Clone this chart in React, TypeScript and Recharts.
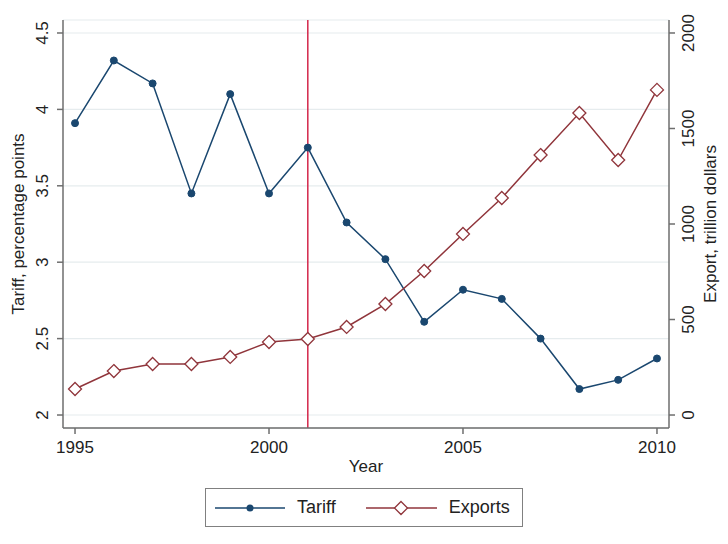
import {
  CartesianGrid,
  Legend,
  Line,
  LineChart,
  ReferenceLine,
  XAxis,
  YAxis,
} from "recharts";

const years = [
  1995, 1996, 1997, 1998, 1999, 2000, 2001, 2002, 2003, 2004, 2005, 2006, 2007,
  2008, 2009, 2010,
];
const tariff = [
  3.91, 4.32, 4.17, 3.45, 4.1, 3.45, 3.75, 3.26, 3.02, 2.61, 2.82, 2.76, 2.5,
  2.17, 2.23, 2.37,
];
const exportsValues = [
  136, 230, 267, 267, 304, 382, 398, 461, 581, 754, 948, 1136, 1361, 1581, 1335,
  1702,
];
const yearTicks = [1995, 2000, 2005, 2010];
const tariffTicks = [2, 2.5, 3, 3.5, 4, 4.5];
const exportTicks = [0, 500, 1000, 1500, 2000];
const policyYear = 2001;

const data = years.map((year, i) => ({
  year,
  tariff: tariff[i],
  exports: exportsValues[i],
}));

const font = "'Liberation Sans', Arial, Helvetica, sans-serif";
const textColor = "#222";
const axisColor = "#6e6e6e";
const tariffColor = "#1a476f";
const exportColor = "#90353b";

function LeftTick({ x, y, payload }: any) {
  const bx = x - 7;
  return (
    <text
      x={bx}
      y={y}
      transform={`rotate(-90, ${bx}, ${y})`}
      textAnchor="middle"
      fontSize={17}
      fontFamily={font}
      fill={textColor}
    >
      {payload.value}
    </text>
  );
}

function RightTick({ x, y, payload }: any) {
  const bx = x + 17;
  return (
    <text
      x={bx}
      y={y}
      transform={`rotate(-90, ${bx}, ${y})`}
      textAnchor="middle"
      fontSize={17}
      fontFamily={font}
      fill={textColor}
    >
      {payload.value}
    </text>
  );
}

function verticalTitle(text: string, dx: number) {
  return ({ viewBox }: any) => {
    const bx = viewBox.x + dx;
    const cy = viewBox.y + viewBox.height / 2;
    return (
      <text
        x={bx}
        y={cy}
        transform={`rotate(-90, ${bx}, ${cy})`}
        textAnchor="middle"
        fontSize={17}
        fontFamily={font}
        fill={textColor}
      >
        {text}
      </text>
    );
  };
}

function yearTitle({ viewBox }: any) {
  return (
    <text
      x={viewBox.x + viewBox.width / 2}
      y={viewBox.y + 44}
      textAnchor="middle"
      fontSize={17}
      fontFamily={font}
      fill={textColor}
    >
      Year
    </text>
  );
}

function Diamond({ cx, cy }: any) {
  if (cx == null || cy == null) return null;
  const r = 6.5;
  return (
    <path
      d={`M${cx},${cy - r}L${cx + r},${cy}L${cx},${cy + r}L${cx - r},${cy}Z`}
      fill="#fff"
      stroke={exportColor}
      strokeWidth={1.3}
    />
  );
}

function LegendBox() {
  const itemText = { fontSize: 18, color: textColor, fontFamily: font };
  return (
    <div style={{ display: "flex", justifyContent: "center" }}>
      <div
        style={{
          boxSizing: "border-box",
          width: 318,
          height: 39,
          border: "1px solid #808080",
          background: "#fff",
          display: "flex",
          alignItems: "center",
          paddingLeft: 9,
        }}
      >
        <svg width={70} height={16}>
          <line x1={0} y1={8} x2={70} y2={8} stroke={tariffColor} strokeWidth={1.5} />
          <circle cx={35} cy={8} r={3.5} fill={tariffColor} />
        </svg>
        <span style={{ ...itemText, marginLeft: 12 }}>Tariff</span>
        <svg width={71} height={16} style={{ marginLeft: 30 }}>
          <line x1={0} y1={8} x2={71} y2={8} stroke={exportColor} strokeWidth={1.5} />
          <path d="M35,1.5L41.5,8L35,14.5L28.5,8Z" fill="#fff" stroke={exportColor} strokeWidth={1.3} />
        </svg>
        <span style={{ ...itemText, marginLeft: 12 }}>Exports</span>
      </div>
    </div>
  );
}

export default function App() {
  return (
    <div style={{ position: "absolute", left: 0, top: 0, background: "#fff" }}>
      <LineChart
        width={728}
        height={544}
        data={data}
        margin={{ top: 20, right: 0, bottom: 17, left: 0 }}
      >
        <CartesianGrid
          yAxisId="left"
          vertical={false}
          stroke="#e6ecee"
          strokeWidth={1.2}
        />
        <XAxis
          dataKey="year"
          type="number"
          domain={[1994.69, 2010.31]}
          ticks={yearTicks}
          allowDataOverflow
          height={60}
          tickSize={6}
          tickMargin={7}
          stroke={axisColor}
          strokeWidth={1.5}
          tick={{ fontSize: 17, fontFamily: font, fill: textColor }}
          label={yearTitle}
        />
        <YAxis
          yAxisId="left"
          domain={[1.915, 4.585]}
          ticks={tariffTicks}
          allowDataOverflow
          width={63}
          tickSize={6}
          stroke={axisColor}
          strokeWidth={1.5}
          tick={<LeftTick />}
          label={verticalTitle("Tariff, percentage points", 24)}
        />
        <YAxis
          yAxisId="right"
          orientation="right"
          domain={[-68, 2068]}
          ticks={exportTicks}
          allowDataOverflow
          width={59}
          tickSize={6}
          stroke={axisColor}
          strokeWidth={1.5}
          tick={<RightTick />}
          label={verticalTitle("Export, trillion dollars", 47)}
        />
        <ReferenceLine
          x={policyYear}
          yAxisId="left"
          stroke="#d3264a"
          strokeWidth={1.5}
        />
        <Line
          yAxisId="left"
          dataKey="tariff"
          name="Tariff"
          type="linear"
          stroke={tariffColor}
          strokeWidth={1.5}
          dot={{ r: 3.5, fill: tariffColor, stroke: tariffColor, strokeWidth: 1 }}
          isAnimationActive={false}
        />
        <Line
          yAxisId="right"
          dataKey="exports"
          name="Exports"
          type="linear"
          stroke={exportColor}
          strokeWidth={1.5}
          dot={<Diamond />}
          isAnimationActive={false}
        />
        <Legend verticalAlign="bottom" height={39} content={LegendBox} />
      </LineChart>
    </div>
  );
}
